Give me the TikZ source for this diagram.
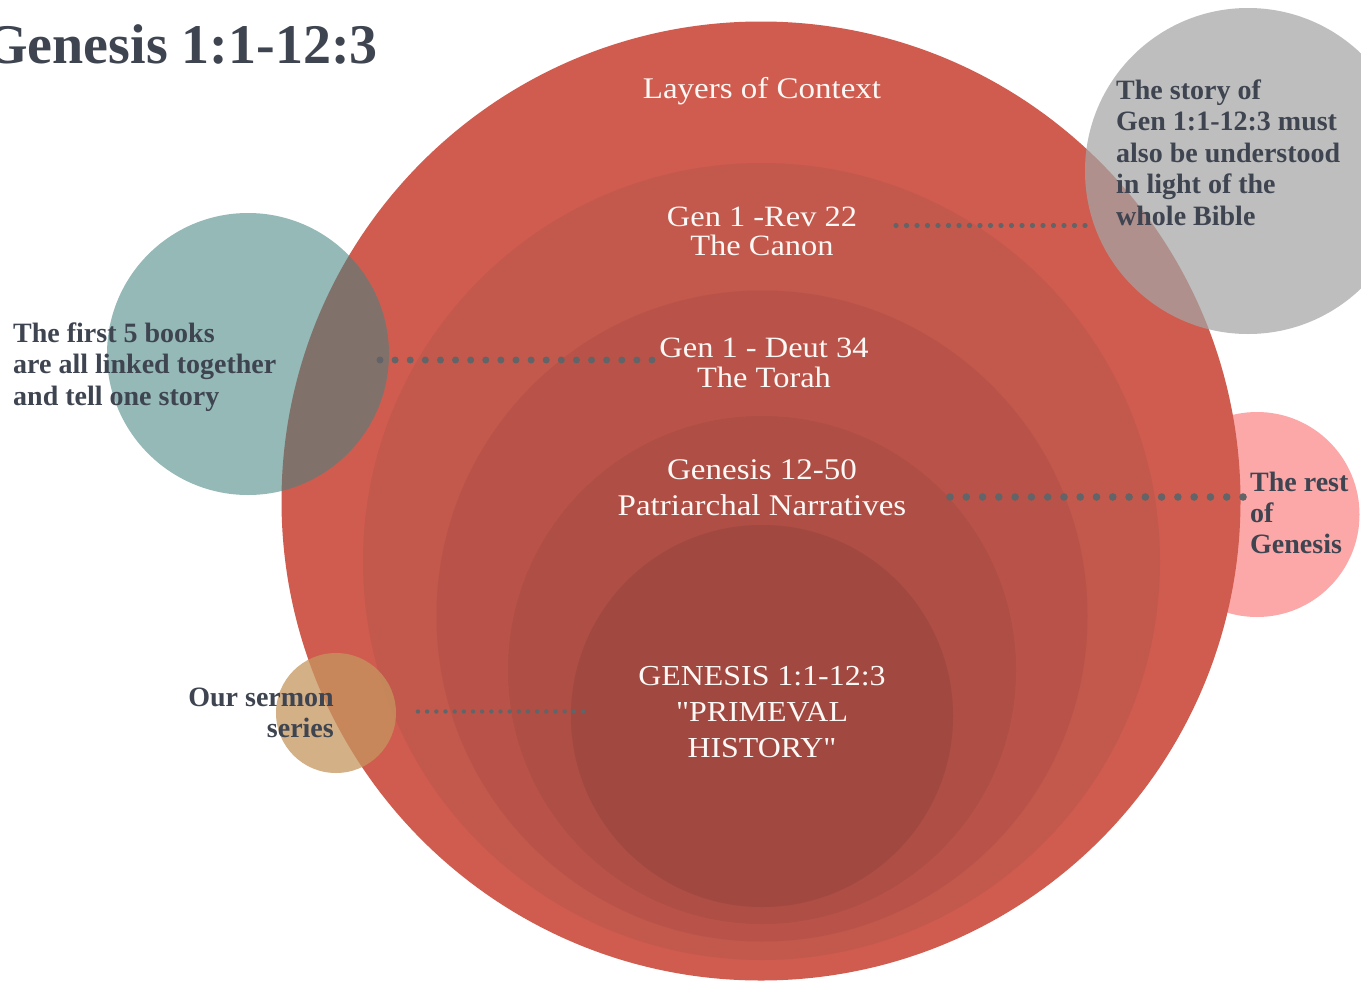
\documentclass[tikz,border=0pt]{standalone}
\usepackage{fontspec}
\setmainfont{Liberation Serif}
\newfontfamily\wfont{Liberation Serif}[FakeStretch=1.1]
\definecolor{ringa}{RGB}{208,92,79}
\definecolor{ringb}{RGB}{195,88,76}
\definecolor{ringc}{RGB}{185,83,73}
\definecolor{ringd}{RGB}{174,78,69}
\definecolor{ringe}{RGB}{161,72,64}
\definecolor{tealc}{RGB}{69,132,129}
\definecolor{grayc}{RGB}{165,165,165}
\definecolor{orangec}{RGB}{198,150,94}
\definecolor{pinkc}{RGB}{252,168,168}
\definecolor{inkc}{RGB}{62,68,80}
\definecolor{dotc}{RGB}{98,100,103}
\definecolor{whitec}{RGB}{252,248,245}
\newcommand\Ctext[1]{\vtop{\halign{\hfil##\hfil\cr#1\crcr}}}
\newcommand\Ltext[1]{\vtop{\halign{##\hfil\cr#1\crcr}}}
\newcommand\Rtext[1]{\vtop{\halign{\hfil##\cr#1\crcr}}}
\begin{document}
\begin{tikzpicture}[x=1pt,y=-1pt,
  sidelabel/.style={text=inkc, inner sep=0pt, anchor=base west,
    font=\bfseries\fontsize{28}{31.5}\selectfont},
  wlabel/.style={text=whitec, inner sep=0pt, anchor=base},
  dotline/.style n args={2}{draw=dotc, line width=#1, line cap=round,
    dash pattern=on 0pt off #2}]
\clip (0,0) rectangle (1361,983);
\useasboundingbox (0,0) rectangle (1361,983);
\fill[white] (0,0) rectangle (1361,983);
% background circle behind the layers
\fill[pinkc] (1257,514.5) circle (102.5);
% layers
\fill[ringa] (761,501) circle (479.5);
\fill[ringb] (761.5,561.5) circle (398.5);
\fill[ringc] (762,616) circle (325.5);
\fill[ringd] (762,670) circle (254);
\fill[ringe] (762,716) circle (191);
% translucent side circles
\fill[tealc, fill opacity=0.57] (248,354) circle (141);
\fill[grayc, fill opacity=0.72] (1248,171) circle (163);
\fill[orangec, fill opacity=0.75] (336,713) circle (60);
% title
\node[anchor=base east, inner sep=0pt, text=inkc,
  font=\bfseries\fontsize{56}{56}\selectfont] (title) at (378,63) {Genesis 1:1-12:3};
% layer labels
\node[wlabel, font=\wfont\fontsize{30}{30}\selectfont] (context) at (762,98) {Layers of Context};
\node[wlabel, font=\wfont\fontsize{29.5}{29}\selectfont] (canon) at (762,226)
  {\Ctext{Gen 1 -Rev 22\cr The Canon}};
\node[wlabel, font=\wfont\fontsize{29.5}{30}\selectfont] (torah) at (764,357)
  {\Ctext{Gen 1 - Deut 34\cr The Torah}};
\node[wlabel, font=\wfont\fontsize{30}{36}\selectfont] (patri) at (762,479)
  {\Ctext{Genesis 12-50\cr Patriarchal Narratives}};
\node[wlabel, font=\wfont\fontsize{29}{36}\selectfont] (prim) at (762,685)
  {\Ctext{GENESIS 1:1-12:3\cr "PRIMEVAL\cr HISTORY"}};
% side labels
\node[sidelabel] (torahnote) at (13,342)
  {\Ltext{The first 5 books\cr are all linked together\cr and tell one story}};
\node[sidelabel] (canonnote) at (1116,99)
  {\Ltext{The story of\cr Gen 1:1-12:3 must\cr also be understood\cr in light of the\cr whole Bible}};
\node[sidelabel, font=\bfseries\fontsize{28}{31}\selectfont] (restnote) at (1250,491)
  {\Ltext{The rest\cr of\cr Genesis}};
\node[sidelabel, anchor=base east, font=\bfseries\fontsize{28}{31}\selectfont] (sermonnote) at (334,706)
  {\Rtext{Our sermon\cr series}};
% dotted connectors
\coordinate (canonA) at (896,225.5);
\coordinate (canonB) at (1085.3,225.5);
\coordinate (torahA) at (380,360);
\coordinate (torahB) at (652.3,360);
\coordinate (patriA) at (950,497);
\coordinate (patriB) at (1243.3,497);
\coordinate (sermA) at (418,711.5);
\coordinate (sermB) at (583.3,711.5);
\draw[dotline={5.2pt}{10.5pt}] (canonA) -- (canonB);
\draw[dotline={7pt}{15.111pt}] (torahA) -- (torahB);
\draw[dotline={7.6pt}{16.278pt}] (patriA) -- (patriB);
\draw[dotline={4.4pt}{9.167pt}] (sermA) -- (sermB);
\end{tikzpicture}
\end{document}
